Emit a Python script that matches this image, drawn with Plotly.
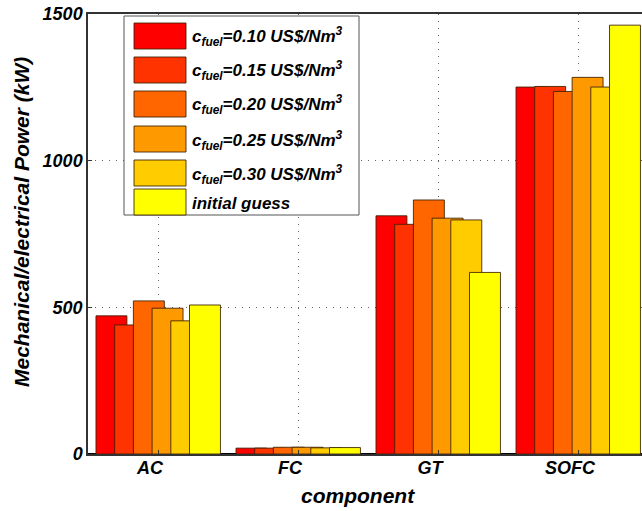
import plotly.graph_objects as go

categories = ["AC", "FC", "GT", "SOFC"]
series_names = [
    "c<sub>fuel</sub>=0.10 US$/Nm<sup>3</sup>",
    "c<sub>fuel</sub>=0.15 US$/Nm<sup>3</sup>",
    "c<sub>fuel</sub>=0.20 US$/Nm<sup>3</sup>",
    "c<sub>fuel</sub>=0.25 US$/Nm<sup>3</sup>",
    "c<sub>fuel</sub>=0.30 US$/Nm<sup>3</sup>",
    "initial guess",
]
colors = ["#FF0000", "#FF3300", "#FF6600", "#FF9900", "#FFCC00", "#FFFF00"]

cfuel_010 = [471, 20, 812, 1251]
cfuel_015 = [440, 20, 783, 1253]
cfuel_020 = [522, 23, 866, 1236]
cfuel_025 = [497, 23, 804, 1284]
cfuel_030 = [454, 21, 798, 1251]
initial_guess = [508, 22, 619, 1462]

y_ticks = [0, 500, 1000, 1500]
x_title = "component"
y_title = "Mechanical/electrical Power (kW)"

series_values = [cfuel_010, cfuel_015, cfuel_020, cfuel_025, cfuel_030, initial_guess]

W, H = 642, 511
L, R, T, B = 88, 0, 14, 57
pw, ph = W - L - R, H - T - B

spacing = 0.1336
bar_w = 0.221
first_off = -0.443

fig = go.Figure()
for k, (name, vals, col) in enumerate(zip(series_names, series_values, colors)):
    fig.add_trace(go.Bar(
        x=categories, y=vals, name=name,
        marker=dict(color=col, line=dict(color="rgba(60,30,0,0.85)", width=1)),
        width=bar_w, offset=first_off + k * spacing,
        showlegend=False,
    ))

FAM = "Liberation Sans, Arial, sans-serif"
font_bi = dict(family=FAM, size=18, color="black", weight="bold", style="italic")

fig.update_layout(
    width=W, height=H,
    margin=dict(l=L, r=R, t=T, b=B, autoexpand=False),
    paper_bgcolor="white", plot_bgcolor="white",
    barmode="overlay",
    xaxis=dict(
        type="category", range=[-0.5, 3.457], automargin=False,
        showline=True, linecolor="#333", linewidth=1.5, mirror=True,
        ticks="inside", ticklen=4, tickcolor="#333",
        showgrid=True, gridcolor="#666", griddash="1px,6px", gridwidth=1.2,
        tickfont=font_bi, ticklabelshift=-8, ticklabelstandoff=-3,
    ),
    yaxis=dict(
        range=[0, 1500], tickvals=y_ticks, automargin=False,
        showline=True, linecolor="#333", linewidth=1.5,
        ticks="inside", ticklen=4, tickcolor="#333",
        showgrid=True, gridcolor="#666", griddash="1px,6px", gridwidth=1.2,
        zeroline=True, zerolinecolor="black", zerolinewidth=2,
        tickfont=font_bi,
    ),
)

def px_x(p):
    return (p - L) / pw

def px_y(p):
    return (H - B - p) / ph

shapes = [dict(type="rect", xref="paper", yref="paper",
               x0=px_x(124), x1=px_x(359), y0=px_y(215), y1=px_y(16),
               line=dict(color="#555", width=1), fillcolor="white", layer="above")]
annotations = [
    dict(xref="paper", yref="paper", x=px_x(358), y=px_y(495), xanchor="center", yanchor="middle",
         showarrow=False, text=x_title, font=dict(font_bi, size=21)),
    dict(xref="paper", yref="paper", x=px_x(21), y=px_y(222), xanchor="center", yanchor="middle",
         showarrow=False, text=y_title, textangle=-90, font=dict(font_bi, size=21)),
]
row_tops = [23, 57, 91, 126, 160, 189]
for top, name, col in zip(row_tops, series_names, colors):
    shapes.append(dict(type="rect", xref="paper", yref="paper",
                       x0=px_x(134), x1=px_x(186), y0=px_y(top + 26), y1=px_y(top),
                       line=dict(color="rgba(60,30,0,0.85)", width=1), fillcolor=col, layer="above"))
    annotations.append(dict(xref="paper", yref="paper", x=px_x(190), y=px_y(top + 14),
                            xanchor="left", yanchor="middle", showarrow=False,
                            text=name, font=dict(font_bi, size=17)))
fig.update_layout(shapes=shapes, annotations=annotations)

fig.write_html("out.html", config={"displayModeBar": False},
               post_script="document.body.style.margin='0';document.body.style.padding='0';")
